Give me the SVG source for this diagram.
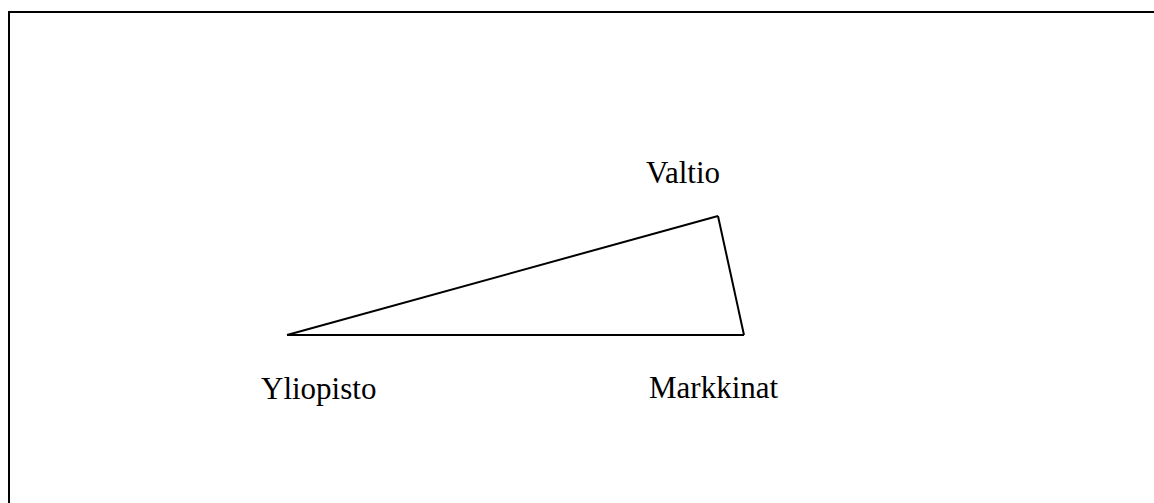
<svg xmlns="http://www.w3.org/2000/svg" width="1154" height="503" viewBox="0 0 1154 503">
<style>
.lbl{font-family:"Liberation Serif","Times New Roman",serif;font-size:31px;fill:#000}
.ln{stroke:#000;stroke-width:2;fill:none}
</style>
<rect width="1154" height="503" fill="#fff"/>
<path class="ln" d="M9 503 V12 H1154" stroke-width="2.2"/>
<g id="connectors">
<line class="ln" x1="287" y1="335" x2="718" y2="216"/>
<line class="ln" x1="718" y1="216" x2="744" y2="335"/>
<line class="ln" x1="287" y1="335" x2="744" y2="335"/>
</g>
<g id="valtio"><text class="lbl" x="646" y="183">Valtio</text></g>
<g id="yliopisto"><text class="lbl" x="261" y="399">Yliopisto</text></g>
<g id="markkinat"><text class="lbl" x="649" y="398">Markkinat</text></g>
</svg>
